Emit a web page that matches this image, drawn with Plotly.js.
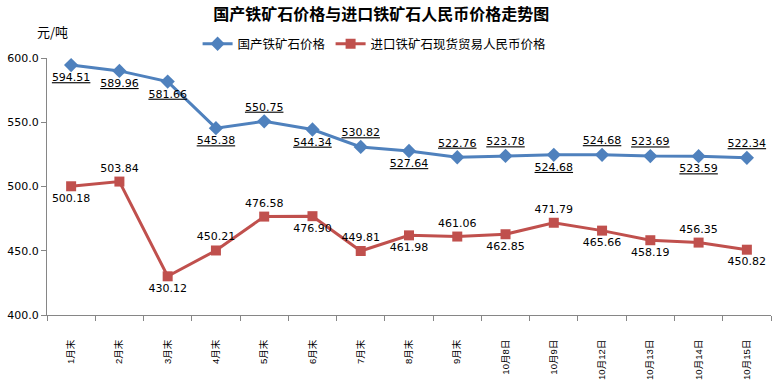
<!DOCTYPE html>
<html><head><meta charset="utf-8">
<script src="https://cdn.plot.ly/plotly-3.0.1.min.js"></script>
<style>html,body{margin:0;padding:0;background:#fff}</style>
</head><body><div id="chart" style="width:772px;height:386px"></div>
<script>
const categories = ["1月末","2月末","3月末","4月末","5月末","6月末","7月末","8月末","9月末","10月8日","10月9日","10月12日","10月13日","10月14日","10月15日"];
const domesticPrice = [594.51,589.96,581.66,545.38,550.75,544.34,530.82,527.64,522.76,523.78,524.68,524.68,523.69,523.59,522.34];
const importPrice = [500.18,503.84,430.12,450.21,476.58,476.90,449.81,461.98,461.06,462.85,471.79,465.66,458.19,456.35,450.82];
const domesticLabelPos = ["bottom center","bottom center","bottom center","bottom center","top center","bottom center","top center","bottom center","top center","top center","bottom center","top center","top center","bottom center","top center"];
const importLabelPos = ["bottom center","top center","bottom center","top center","top center","bottom center","top center","bottom center","top center","bottom center","top center","bottom center","bottom center","top center","bottom center"];
const yTicks = [400,450,500,550,600];

const font = "DejaVu Sans, Noto Sans CJK SC, sans-serif";
const traces = [
  {x: categories, y: domesticPrice, name: "国产铁矿石价格", type: "scatter", mode: "lines+markers+text",
   line: {color: "#4F81BD", width: 3}, marker: {symbol: "diamond", size: 11, color: "#4F81BD"},
   text: domesticPrice.map(v => v.toFixed(2)), textposition: domesticLabelPos,
   textfont: {family: font, size: 11, color: "#000", lineposition: "under"}, cliponaxis: false},
  {x: categories, y: importPrice, name: "进口铁矿石现货贸易人民币价格", type: "scatter", mode: "lines+markers+text",
   line: {color: "#C0504D", width: 3}, marker: {symbol: "square", size: 10, color: "#C0504D"},
   text: importPrice.map(v => v.toFixed(2)), textposition: importLabelPos,
   textfont: {family: font, size: 11, color: "#000"}, cliponaxis: false}
];
const layout = {
  width: 772, height: 386,
  margin: {l: 47, r: 1, t: 58, b: 71},
  paper_bgcolor: "#fff", plot_bgcolor: "#fff",
  font: {family: font, size: 11, color: "#000"},
  title: {text: "<b>国产铁矿石价格与进口铁矿石人民币价格走势图</b>", font: {family: "Noto Sans CJK SC", size: 16, color: "#000"}, x: 0.494, xanchor: "center", y: 0.962, yanchor: "middle"},
  showlegend: true,
  legend: {orientation: "h", x: 0.208, xanchor: "left", y: 1.054, yanchor: "middle", font: {family: "Noto Sans CJK SC", size: 12.5, color: "#000"}, itemwidth: 30, tracegroupgap: 0},
  xaxis: {type: "category", showgrid: false, showline: true, linecolor: "#868686", linewidth: 1,
    ticks: "outside", tickson: "boundaries", ticklen: 5, tickcolor: "#868686",
    tickangle: -90, tickfont: {family: "Liberation Sans, Noto Sans CJK SC, sans-serif", size: 9.5}, ticklabelstandoff: 20, range: [-0.5, 14.5], zeroline: false},
  yaxis: {range: [400, 600], tickvals: yTicks, ticktext: yTicks.map(v => v.toFixed(1)), showgrid: false,
    showline: true, linecolor: "#868686", linewidth: 1, ticks: "outside", ticklen: 5, tickcolor: "#868686",
    tickfont: {family: font, size: 11}, zeroline: false},
  annotations: [{text: "元/吨", xref: "paper", yref: "paper", x: -0.017, y: 1.105, xanchor: "left", yanchor: "middle", showarrow: false, font: {family: "Noto Sans CJK SC", size: 13, color: "#000"}}]
};
Plotly.newPlot("chart", traces, layout, {displayModeBar: false, staticPlot: true});
</script></body></html>
